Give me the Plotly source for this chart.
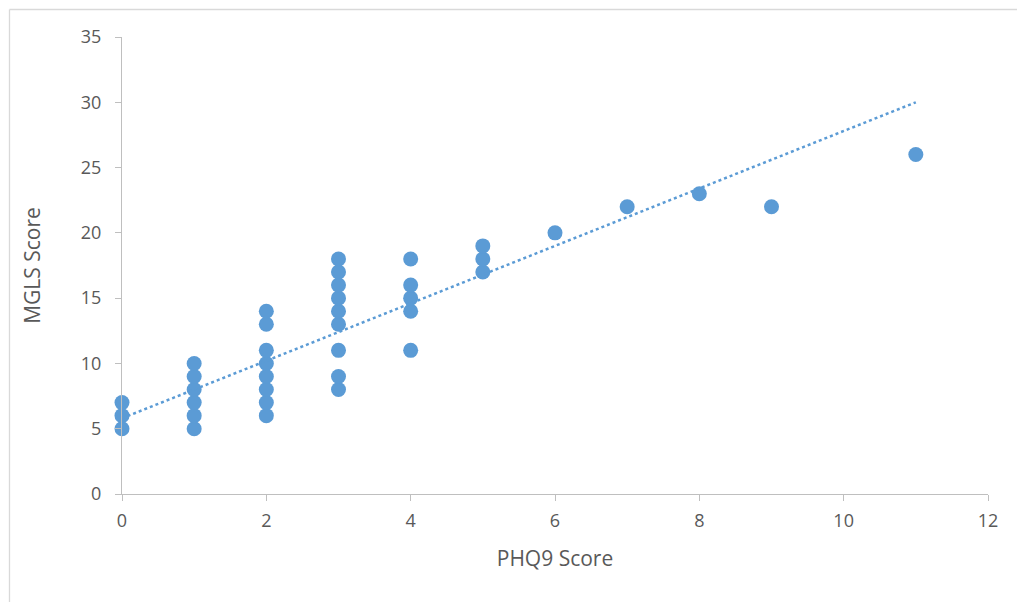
import plotly.graph_objects as go

phq9 = [0, 0, 0,
        1, 1, 1, 1, 1, 1,
        2, 2, 2, 2, 2, 2, 2, 2,
        3, 3, 3, 3, 3, 3, 3, 3, 3,
        4, 4, 4, 4, 4,
        5, 5, 5,
        6, 7, 8, 9, 11]
mgls = [5, 6, 7,
        5, 6, 7, 8, 9, 10,
        6, 7, 8, 9, 10, 11, 13, 14,
        8, 9, 11, 13, 14, 15, 16, 17, 18,
        11, 14, 15, 16, 18,
        17, 18, 19,
        20, 22, 23, 22, 26]

trend_x = [0, 11]
trend_y = [5.8, 30.0]

x_ticks = [0, 2, 4, 6, 8, 10, 12]
y_ticks = [0, 5, 10, 15, 20, 25, 30, 35]

blue = "#5B9BD5"
font_fam = "Open Sans, Liberation Sans, sans-serif"
tick_font = dict(family=font_fam, color="#595959", size=18)

fig = go.Figure()
fig.add_trace(go.Scatter(x=phq9, y=mgls, mode="markers",
                         marker=dict(color=blue, size=15, line=dict(width=0)),
                         cliponaxis=False, showlegend=False))
fig.add_trace(go.Scatter(x=trend_x, y=trend_y, mode="lines",
                         line=dict(color=blue, width=2.5, dash="dot"),
                         showlegend=False))

L, R, T, B = 122, 29, 37, 108
W, H = 1017, 602
pw, ph = W - L - R, H - T - B

def px(x):
    return (x - L) / pw

def py(y):
    return (H - B - y) / ph

fig.update_layout(
    width=W, height=H,
    margin=dict(l=L, r=R, t=T, b=B),
    paper_bgcolor="white", plot_bgcolor="white",
    font=dict(family=font_fam, color="#595959", size=18),
    xaxis=dict(range=[0, 12], tickvals=x_ticks, showgrid=False, zeroline=False,
               showline=True, linecolor="#BFBFBF", linewidth=1.3,
               ticks="outside", ticklen=6, tickcolor="#BFBFBF", tickwidth=1,
               ticklabelstandoff=4, tickfont=tick_font,
               title=dict(text="PHQ9 Score", font=dict(size=21, color="#595959"), standoff=20)),
    yaxis=dict(range=[0, 35], tickvals=y_ticks, showgrid=False, zeroline=False,
               showline=True, linecolor="#BFBFBF", linewidth=1.3,
               ticks="outside", ticklen=6, tickcolor="#BFBFBF", tickwidth=1,
               ticklabelstandoff=10, tickfont=tick_font,
               title=dict(text="MGLS Score", font=dict(size=21, color="#595959"), standoff=34)),
    shapes=[
        dict(type="line", xref="paper", yref="paper", x0=px(9.5), x1=px(9.5),
             y0=py(9.5), y1=py(W), line=dict(color="#D9D9D9", width=1.3)),
        dict(type="line", xref="paper", yref="paper", x0=px(9.5), x1=px(1100),
             y0=py(9.5), y1=py(9.5), line=dict(color="#D9D9D9", width=1.3)),
    ],
)

fig.write_html("out.html")
